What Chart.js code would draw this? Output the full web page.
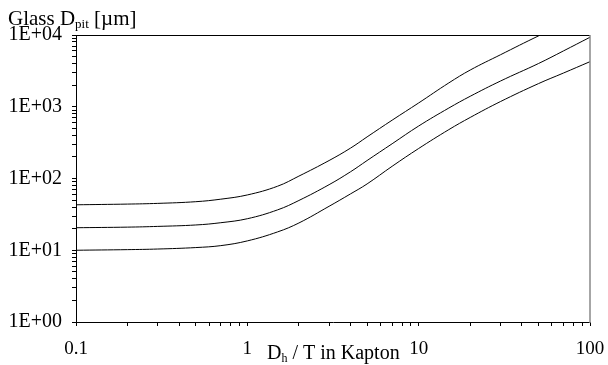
<!DOCTYPE html>
<html><head><meta charset="utf-8">
<script src="https://cdn.jsdelivr.net/npm/chart.js@4/dist/chart.umd.min.js"></script>
<style>html,body{margin:0;padding:0;background:#fff}canvas{display:block}</style>
</head><body>
<div style="width:608px;height:365px"><canvas id="c" width="608" height="365"></canvas></div>
<script>
const xValues   = [0.1, 0.2, 0.3, 0.5, 0.7, 1, 1.5, 2, 3, 4, 5, 7, 10, 15, 20, 30, 50, 70, 100];
const upperPit  = [43, 44, 45, 47.5, 51.5, 59, 78, 108, 178, 265, 380, 650, 1130, 2150, 3250, 5300, 9700, 14000, 20000];
const middlePit = [20.6, 21, 21.5, 22.5, 24.2, 27.5, 36.5, 49.4, 82, 124, 178, 305, 539, 960, 1400, 2280, 4000, 6000, 9300];
const lowerPit  = [10, 10.2, 10.4, 10.9, 11.6, 13.5, 18, 24, 41, 61, 84, 148, 262, 480, 710, 1180, 2100, 2950, 4250];
const xTickLabels = ['0.1', '1', '10', '100'];
const yTickLabels = ['1E+00', '1E+01', '1E+02', '1E+03', '1E+04'];
const yTitle = ['Glass D', 'pit', ' [\u00B5m]'];
const xTitle = ['D', 'h', ' / T in Kapton'];

const FONT = '"Liberation Serif", "Times New Roman", serif';

function decadeTicks(minExp, maxExp) {
  const t = [];
  for (let e = minExp; e < maxExp; e++) {
    for (let m = 1; m <= 9; m++) t.push({ value: m * Math.pow(10, e), major: m === 1 });
  }
  t.push({ value: Math.pow(10, maxExp), major: true });
  return t;
}
function isPow10(v) { const l = Math.log10(v); return Math.abs(l - Math.round(l)) < 1e-9; }

const toPts = arr => arr.map((y, i) => ({ x: xValues[i], y }));
const ds = arr => ({
  data: toPts(arr), borderColor: '#000', borderWidth: 1, pointRadius: 0,
  fill: false, tension: 0.4
});

const framePlugin = {
  id: 'frame',
  afterDraw(chart) {
    const ctx = chart.ctx, a = chart.chartArea;
    ctx.save();
    ctx.strokeStyle = '#000'; ctx.lineWidth = 1;
    ctx.beginPath(); ctx.moveTo(a.left, a.top + 0.5); ctx.lineTo(a.right, a.top + 0.5); ctx.stroke();
    ctx.strokeStyle = '#888'; ctx.lineWidth = 1.5;
    ctx.beginPath(); ctx.moveTo(a.right, a.top); ctx.lineTo(a.right, a.bottom + 1); ctx.stroke();
    ctx.fillStyle = '#000'; ctx.textBaseline = 'alphabetic'; ctx.textAlign = 'left';
    let x = 8;
    ctx.font = '21px ' + FONT; ctx.fillText(yTitle[0], x, 25); x += ctx.measureText(yTitle[0]).width;
    ctx.font = '13px ' + FONT; ctx.fillText(yTitle[1], x, 28); x += ctx.measureText(yTitle[1]).width;
    ctx.font = '21px ' + FONT; ctx.fillText(yTitle[2], x, 25);
    x = 267;
    ctx.font = '20px ' + FONT; ctx.fillText(xTitle[0], x, 359); x += ctx.measureText(xTitle[0]).width;
    ctx.font = '12px ' + FONT; ctx.fillText(xTitle[1], x, 362); x += ctx.measureText(xTitle[1]).width;
    ctx.font = '20px ' + FONT; ctx.fillText(xTitle[2], x, 359);
    ctx.restore();
  }
};

new Chart(document.getElementById('c'), {
  type: 'line',
  data: { datasets: [ds(upperPit), ds(middlePit), ds(lowerPit)] },
  options: {
    responsive: false, animation: false,
    layout: { padding: { top: 35, right: 18, left: 0, bottom: 0 } },
    plugins: { legend: { display: false }, tooltip: { enabled: false } },
    scales: {
      x: {
        type: 'logarithmic', position: 'bottom', min: 0.1, max: 100,
        afterBuildTicks: s => { s.ticks = decadeTicks(-1, 2); },
        afterFit: s => { s.height = 43; s.paddingLeft = 0; s.paddingRight = 0; },
        ticks: {
          autoSkip: false, maxRotation: 0, color: '#000', padding: 12,
          font: { family: FONT, size: 19 },
          callback: v => isPow10(v) ? xTickLabels[Math.round(Math.log10(v)) + 1] : ''
        },
        grid: { display: true, drawOnChartArea: false, drawTicks: true, tickLength: 4, tickColor: '#000' },
        border: { display: true, color: '#000', width: 1 }
      },
      y: {
        type: 'logarithmic', position: 'left', min: 1, max: 10000,
        afterBuildTicks: s => { s.ticks = decadeTicks(0, 4); },
        afterFit: s => { s.width = 76; s.paddingTop = 0; s.paddingBottom = 0; },
        ticks: {
          autoSkip: false, color: '#000', padding: 10,
          font: { family: FONT, size: 20 },
          callback: v => isPow10(v) ? yTickLabels[Math.round(Math.log10(v))] : ''
        },
        grid: { display: true, drawOnChartArea: false, drawTicks: true, tickLength: 4, tickColor: '#000' },
        border: { display: true, color: '#000', width: 1 }
      }
    }
  },
  plugins: [framePlugin]
});
</script>
</body></html>
